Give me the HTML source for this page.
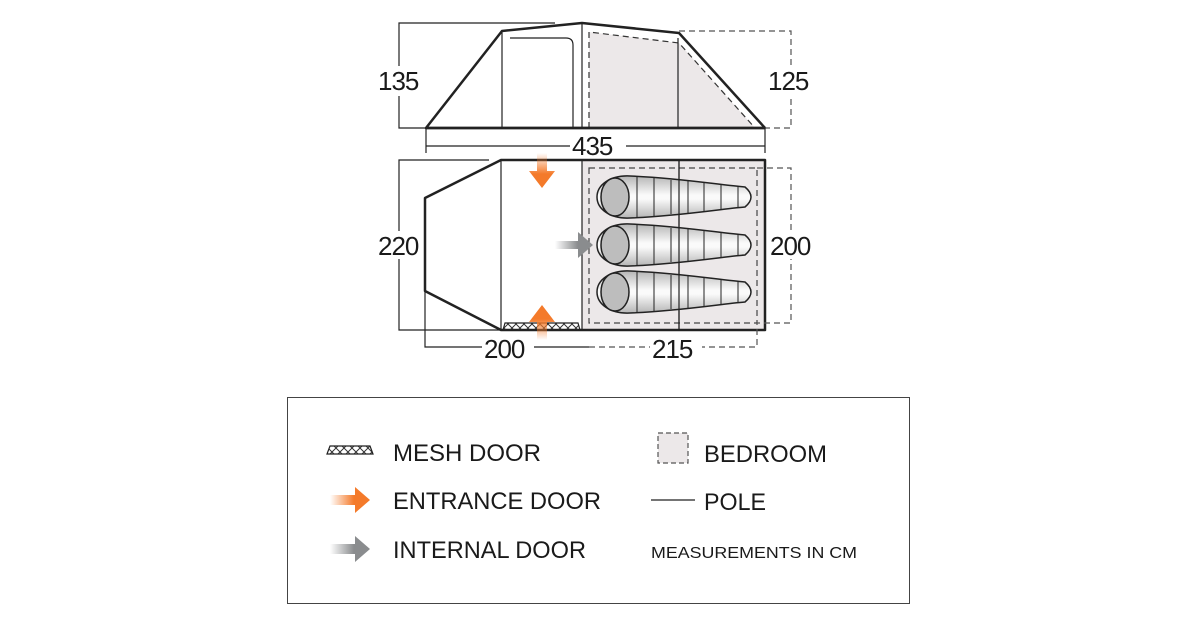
<!DOCTYPE html>
<html><head><meta charset="utf-8"><style>
html,body{margin:0;padding:0;background:#fff;}
svg{display:block;}
text{font-family:"Liberation Sans",sans-serif;fill:#1a1a1a;}
</style></head><body>
<svg width="1200" height="630" viewBox="0 0 1200 630" xmlns="http://www.w3.org/2000/svg">
<defs>
<linearGradient id="bag" x1="0" y1="0" x2="0" y2="1">
<stop offset="0" stop-color="#b5b5b5"/><stop offset="0.45" stop-color="#fafafa"/><stop offset="0.55" stop-color="#fafafa"/><stop offset="1" stop-color="#b5b5b5"/>
</linearGradient>
<linearGradient id="orD" x1="0" y1="0" x2="0" y2="1">
<stop offset="0" stop-color="#f47a2a" stop-opacity="0"/><stop offset="0.6" stop-color="#f47a2a"/></linearGradient>
<linearGradient id="orU" x1="0" y1="1" x2="0" y2="0">
<stop offset="0" stop-color="#f47a2a" stop-opacity="0"/><stop offset="0.6" stop-color="#f47a2a"/></linearGradient>
<linearGradient id="orR" x1="0" y1="0" x2="1" y2="0">
<stop offset="0" stop-color="#f47a2a" stop-opacity="0"/><stop offset="0.6" stop-color="#f47a2a"/></linearGradient>
<linearGradient id="grR" x1="0" y1="0" x2="1" y2="0">
<stop offset="0" stop-color="#8a8c8e" stop-opacity="0"/><stop offset="0.6" stop-color="#8a8c8e"/></linearGradient>
<pattern id="mesh" width="8" height="8" patternUnits="userSpaceOnUse">
<path d="M0 0L8 8M8 0L0 8" stroke="#333" stroke-width="1"/></pattern>
<g id="bagshape">
<path d="M630 -21 C680 -19 720 -12 745 -10 Q757 0 745 10 C720 12 680 19 630 21 C610 22 597 12 597 0 C597 -12 610 -22 630 -21Z" fill="url(#bag)" stroke="#222" stroke-width="1.5"/>
<g stroke="#222" stroke-width="1">
<line x1="637" y1="-20" x2="637" y2="20"/><line x1="654" y1="-19" x2="654" y2="19"/><line x1="671" y1="-17" x2="671" y2="17"/><line x1="688" y1="-16" x2="688" y2="16"/><line x1="704" y1="-15" x2="704" y2="15"/><line x1="721" y1="-13" x2="721" y2="13"/><line x1="738" y1="-11" x2="738" y2="11"/>
<path d="M603 -12 L611 -9 M603 12 L611 9 M617 -20 L615 -17 M617 20 L615 17"/>
</g>
<ellipse cx="615" cy="0" rx="14" ry="19" fill="#bdbdbd" stroke="#222" stroke-width="1.5"/>
</g>
</defs>

<polygon points="589,32 679,43 755,128 589,128" fill="#ece8e9"/>
<path d="M589 128 L589 32 L679 43 L755 128" fill="none" stroke="#333" stroke-width="1.2" stroke-dasharray="6,4"/>
<polygon points="426,128 502,31 582,23 679,33 765,128" fill="none" stroke="#222" stroke-width="2.5" stroke-linejoin="round"/>
<line x1="426" y1="128" x2="765" y2="128" stroke="#222" stroke-width="2.5"/>
<g stroke="#222" stroke-width="1.2" fill="none">
<line x1="502" y1="31" x2="502" y2="128"/>
<line x1="582" y1="23" x2="582" y2="128"/>
<line x1="678" y1="38" x2="678" y2="128"/>
<path d="M510 38 L566 38 Q573 38 573 45 L573 128"/>
<path d="M555 23 L399 23 L399 128 L426 128"/>
<line x1="426" y1="146" x2="765" y2="146"/>
<line x1="426" y1="128" x2="426" y2="153"/>
<line x1="765" y1="128" x2="765" y2="153"/>
</g>
<path d="M679 31 L791 31 L791 128 L765 128" fill="none" stroke="#555" stroke-width="1.2" stroke-dasharray="6,4"/>
<rect x="374" y="66" width="50" height="30" fill="#fff"/>
<text x="378" y="90" font-size="26" letter-spacing="-1">135</text>
<rect x="766" y="66" width="50" height="30" fill="#fff"/>
<text x="768" y="90" font-size="26" letter-spacing="-1">125</text>
<rect x="570" y="132" width="56" height="26" fill="#fff"/>
<text x="572" y="155" font-size="26" letter-spacing="-1">435</text>

<rect x="582" y="160" width="183" height="170" fill="#ece8e9"/>
<rect x="589" y="168" width="168" height="155" fill="none" stroke="#444" stroke-width="1.2" stroke-dasharray="6,4"/>
<polygon points="501,160 765,160 765,330 501,330 425,291 425,198" fill="none" stroke="#222" stroke-width="2.5" stroke-linejoin="round"/>
<g stroke="#222" stroke-width="1.2">
<line x1="501" y1="160" x2="501" y2="330"/>
<line x1="582" y1="160" x2="582" y2="330"/>
<line x1="679" y1="160" x2="679" y2="330"/>
</g>
<use href="#bagshape" transform="translate(0,197)"/>
<use href="#bagshape" transform="translate(0,245)"/>
<use href="#bagshape" transform="translate(0,292)"/>
<line x1="679" y1="160" x2="679" y2="330" stroke="#222" stroke-width="1.2"/>
<polygon points="503,330 505,323 578,323 580,330" fill="url(#mesh)" stroke="#222" stroke-width="1.2"/>
<path d="M537 153 h10 v18 h8 l-13 17 l-13 -17 h8z" fill="url(#orD)"/>
<path d="M537 340 h10 v-18 h8 l-13 -17 l-13 17 h8z" fill="url(#orU)"/>
<path d="M555 241 h23 v-9 l15 13 l-15 13 v-9 h-23z" fill="url(#grR)"/>
<g stroke="#222" stroke-width="1.2" fill="none">
<path d="M489 160 L399 160 L399 330 L501 330"/>
<path d="M425 291 L425 347 L589 347"/>
</g>
<path d="M589 347 L757 347 L757 323 M757 168 L791 168 L791 323 L757 323" fill="none" stroke="#555" stroke-width="1.2" stroke-dasharray="6,4"/>
<rect x="376" y="231" width="46" height="28" fill="#fff"/>
<text x="378" y="255" font-size="26" letter-spacing="-1">220</text>
<rect x="768" y="231" width="48" height="28" fill="#fff"/>
<text x="770" y="255" font-size="26" letter-spacing="-1">200</text>
<rect x="482" y="335" width="52" height="26" fill="#fff"/>
<text x="484" y="358" font-size="26" letter-spacing="-1">200</text>
<rect x="650" y="335" width="52" height="26" fill="#fff"/>
<text x="652" y="358" font-size="26" letter-spacing="-1">215</text>

<rect x="287.5" y="397.5" width="622" height="206" fill="#fff" stroke="#444" stroke-width="1"/>
<polygon points="327,454 330,446 370,446 373,454" fill="url(#mesh)" stroke="#222" stroke-width="1.2"/>
<text x="393" y="461" font-size="24" textLength="148" lengthAdjust="spacingAndGlyphs">MESH DOOR</text>
<path d="M330 495 h25 v-8 l15 13 l-15 13 v-8 h-25z" fill="url(#orR)"/>
<text x="393" y="509" font-size="24" textLength="208" lengthAdjust="spacingAndGlyphs">ENTRANCE DOOR</text>
<path d="M330 544 h25 v-8 l15 13 l-15 13 v-8 h-25z" fill="url(#grR)"/>
<text x="393" y="558" font-size="24" textLength="193" lengthAdjust="spacingAndGlyphs">INTERNAL DOOR</text>
<rect x="658" y="433" width="30" height="30" fill="#ece8e9" stroke="#555" stroke-width="1.2" stroke-dasharray="5,3"/>
<text x="704" y="462" font-size="24" textLength="123" lengthAdjust="spacingAndGlyphs">BEDROOM</text>
<line x1="651" y1="500" x2="695" y2="500" stroke="#222" stroke-width="1.3"/>
<text x="704" y="510" font-size="24" textLength="62" lengthAdjust="spacingAndGlyphs">POLE</text>
<text x="651" y="558" font-size="16" textLength="206" lengthAdjust="spacingAndGlyphs">MEASUREMENTS IN CM</text>
</svg>
</body></html>
